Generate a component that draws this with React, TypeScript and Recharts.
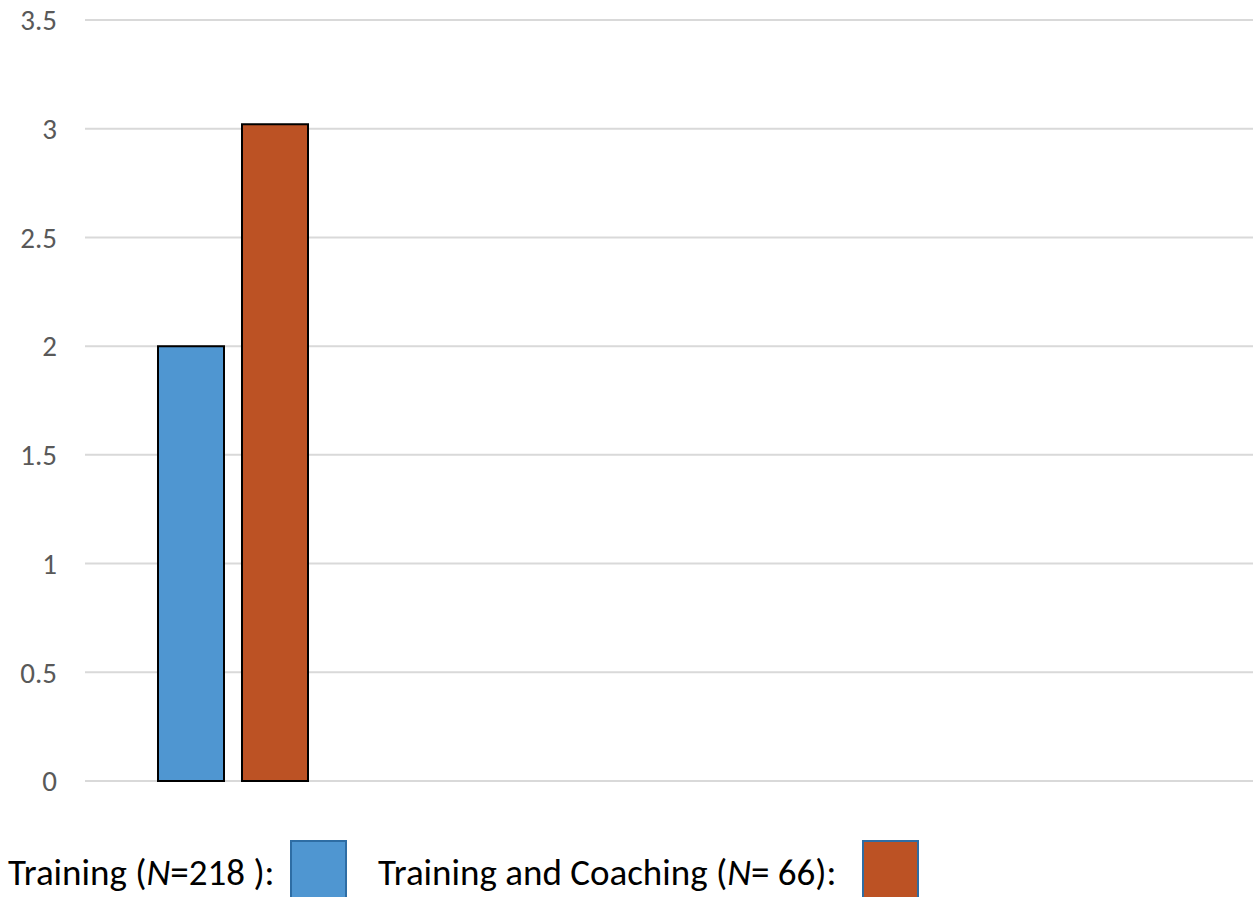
import React from "react";
import { BarChart, Bar, XAxis, YAxis, CartesianGrid } from "recharts";

const groups = ["Group 1", "Group 2", "Group 3", "Group 4"];
const trainingValues = [2.0, null, null, null];
const coachingValues = [3.02, null, null, null];
const yTicks = [0, 0.5, 1, 1.5, 2, 2.5, 3, 3.5];

const BLUE = "#4f96d1";
const ORANGE = "#bc5224";
const FONT = "Calibri, Carlito, 'Open Sans', sans-serif";

const data = groups.map((g, i) => ({
  group: g,
  training: trainingValues[i],
  coaching: coachingValues[i],
}));

function LegendBox({ color, left }: { color: string; left: number }) {
  return (
    <div
      style={{
        position: "absolute",
        left,
        top: 840,
        width: 57,
        height: 60,
        background: color,
        border: "2px solid #2e6da4",
        boxSizing: "border-box",
      }}
    />
  );
}

const legendText: React.CSSProperties = {
  position: "absolute",
  top: 843,
  fontSize: 37,
  lineHeight: "60px",
  color: "#000",
  whiteSpace: "nowrap",
};

export default function App() {
  return (
    <div
      style={{
        position: "absolute",
        left: 0,
        top: 0,
        width: 1253,
        height: 897,
        overflow: "hidden",
        background: "#fff",
        fontFamily: FONT,
      }}
    >
      <BarChart
        width={1253}
        height={897}
        data={data}
        margin={{ top: 20, right: -12, left: 0, bottom: 116 }}
        barSize={66}
        barGap={18}
      >
        <CartesianGrid vertical={false} stroke="#d9d9d9" strokeWidth={2} />
        <XAxis dataKey="group" hide />
        <YAxis
          width={85}
          domain={[0, 3.5]}
          ticks={yTicks}
          axisLine={false}
          tickLine={false}
          tickMargin={22}
          tick={{ fill: "#595959", fontSize: 29, fontFamily: FONT }}
        />
        <Bar dataKey="training" fill={BLUE} stroke="#000" strokeWidth={2} isAnimationActive={false} />
        <Bar dataKey="coaching" fill={ORANGE} stroke="#000" strokeWidth={2} isAnimationActive={false} />
      </BarChart>
      <div style={{ ...legendText, left: 8 }}>
        Training (<i>N</i>=218 ):
      </div>
      <LegendBox color={BLUE} left={290} />
      <div style={{ ...legendText, left: 378 }}>
        Training and Coaching (<i>N</i>= 66):
      </div>
      <LegendBox color={ORANGE} left={862} />
    </div>
  );
}
